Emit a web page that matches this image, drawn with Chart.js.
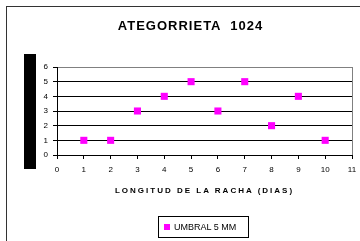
<!DOCTYPE html>
<html>
<head>
<meta charset="utf-8">
<script src="https://cdn.jsdelivr.net/npm/chart.js@4.4.0/dist/chart.umd.min.js"></script>
<style>
  html, body { margin: 0; padding: 0; background: #fff; }
  body { width: 360px; height: 241px; overflow: hidden; position: relative; font-family: 'Liberation Sans', Arial, sans-serif; }
  #frame { position: absolute; left: 6px; top: 6px; width: 368px; height: 250px; border: 1px solid #333; box-sizing: border-box; }
  #bar { position: absolute; left: 24px; top: 54px; width: 12px; height: 115px; background: #000; }
  #wrap { position: absolute; left: 0; top: 0; width: 380px; height: 241px; }
  #title { position: absolute; left: 0; width: 381px; top: 18px; line-height: 15px; text-align: center;
           font-size: 13px; font-weight: bold; letter-spacing: 1px; color: #000; white-space: pre; }
  #xtitle { position: absolute; left: 57px; width: 295px; top: 185px; line-height: 12px; text-align: center;
            font-size: 8px; font-weight: bold; letter-spacing: 2px; color: #000; }
  #legend { position: absolute; left: 158px; top: 216px; width: 91px; height: 22px; border: 1px solid #000; box-sizing: border-box; }
  #legend .mk { position: absolute; left: 5px; top: 7px; width: 6px; height: 6px; background: #ff00ff; }
  #legend .tx { position: absolute; left: 15px; top: 4px; font-size: 9px; line-height: 12px; color: #000; white-space: nowrap; }
</style>
</head>
<body>
<div id="frame"></div>
<div id="bar"></div>
<div id="wrap"><canvas id="c"></canvas></div>
<div id="title"></div>
<div id="xtitle">LONGITUD DE LA RACHA (DIAS)</div>
<div id="legend"><span class="mk"></span><span class="tx" id="legText"></span></div>
<script>
// racha length (days) vs. count
const RACHA_DIAS = [1, 2, 3, 4, 5, 6, 7, 8, 9, 10];
const UMBRAL_5MM = [1, 1, 3, 4, 5, 3, 5, 2, 4, 1];
const SERIES_LABEL = 'UMBRAL 5 MM';
const TITLE = 'ATEGORRIETA  1024';

const TICK_FONT = { family: "'Liberation Sans', Arial, sans-serif", size: 8 };

document.getElementById('title').textContent = TITLE;
document.getElementById('legText').textContent = SERIES_LABEL;

new Chart(document.getElementById('c'), {
    type: 'scatter',
    data: {
        datasets: [{
            label: SERIES_LABEL,
            data: RACHA_DIAS.map((d, i) => ({ x: d, y: UMBRAL_5MM[i] })),
            pointStyle: 'rect',
            pointRadius: 5,
            pointHoverRadius: 5,
            borderWidth: 0,
            backgroundColor: '#ff00ff',
            showLine: false,
        }],
    },
    options: {
        responsive: true,
        maintainAspectRatio: false,
        animation: false,
        layout: { padding: { left: 0, right: 28, top: 67, bottom: 0 } },
        plugins: {
            legend: { display: false },
            tooltip: { enabled: false },
            title: { display: false },
        },
        scales: {
            x: {
                type: 'linear',
                min: 0,
                max: 11,
                ticks: { stepSize: 1, color: '#000', font: TICK_FONT, padding: 6, maxRotation: 0 },
                grid: {
                    color: c => (c.tick && c.tick.value === 11 ? '#808080' : 'rgba(0,0,0,0)'),
                    tickColor: '#000',
                    tickLength: 4,
                },
                border: { color: '#000' },
                afterFit: s => { s.height = 86; },
            },
            y: {
                min: 0,
                max: 6,
                ticks: { stepSize: 1, color: '#000', font: TICK_FONT, padding: 5 },
                grid: {
                    color: c => (c.tick && c.tick.value === 6 ? '#808080' : '#000'),
                    tickColor: '#000',
                    tickLength: 4,
                },
                border: { color: '#000' },
                afterFit: s => { s.width = 57; },
            },
        },
    },
});
</script>
</body>
</html>
